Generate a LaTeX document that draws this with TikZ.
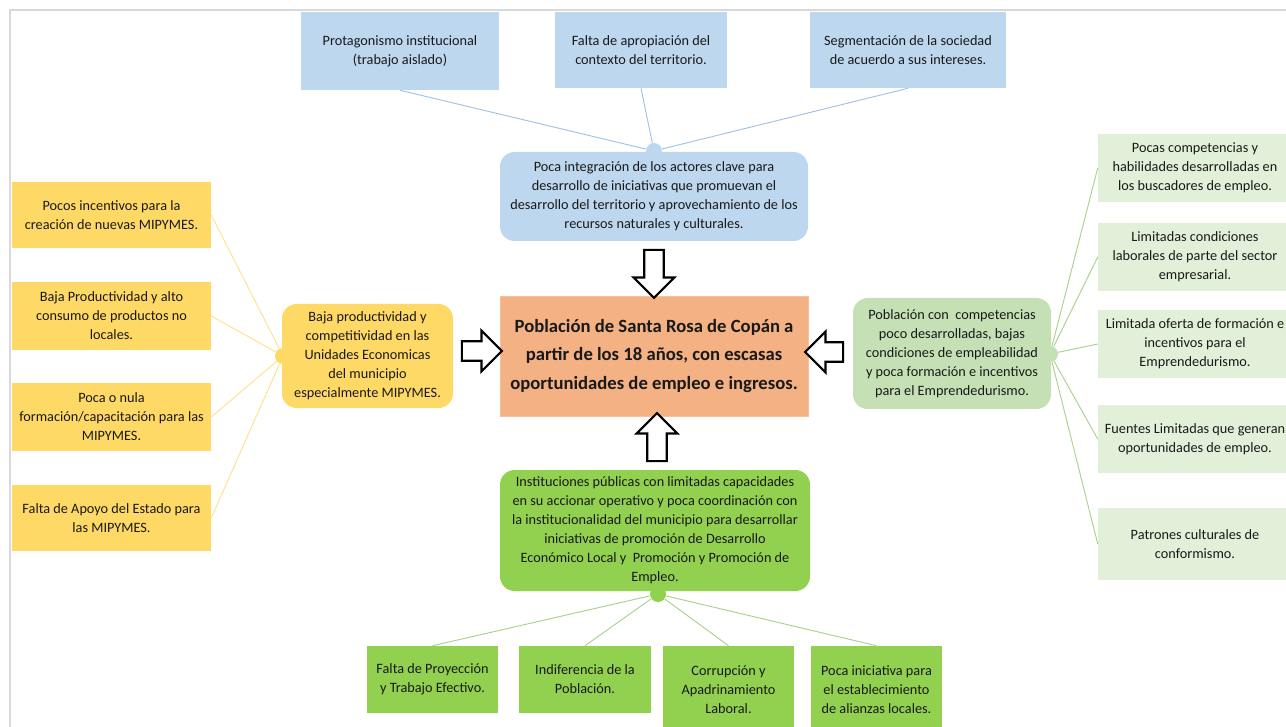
\documentclass[tikz,border=0pt]{standalone}
\usepackage{fontspec}
\setmainfont{Carlito}
\usetikzlibrary{shapes.arrows}
\definecolor{blueBox}{HTML}{BDD7EE}
\definecolor{blueLine}{HTML}{9DC3E6}
\definecolor{yellowBox}{HTML}{FFD966}
\definecolor{yellowLine}{HTML}{FFE08A}
\definecolor{orangeBox}{HTML}{F4B183}
\definecolor{paleGreen}{HTML}{E2F0D9}
\definecolor{midGreen}{HTML}{C5E0B4}
\definecolor{limeGreen}{HTML}{92D050}
\definecolor{greenLine}{HTML}{A9D18E}
\begin{document}
\begin{tikzpicture}[x=0.75pt,y=-0.75pt,
	sz/.style 2 args={minimum width=#1*0.75pt,minimum height=#2*0.75pt},
	txt/.style={align=center,inner sep=2pt,text=black!90,font=\fontsize{10.7}{14.25}\selectfont},
	sqbox/.style={txt,rectangle},
	hub/.style={txt,rectangle,rounded corners=11pt},
	knob/.style={circle,minimum size=16*0.75pt,inner sep=0pt},
	link/.style={line width=0.7pt},
	blockarrow/.style={single arrow,draw=black,fill=white,line width=1.6pt,
		inner sep=6.5pt,single arrow head extend=8pt,single arrow tip angle=90}]
	\useasboundingbox (0,0) rectangle (1286,727);
	\draw[black!15, line width=1.5pt] (10,727) -- (10,10) -- (1286,10);

	\node[sqbox, fill=blueBox, sz={198}{78}] (t1) at (400,51) {Protagonismo institucional\\(trabajo aislado)};
	\node[sqbox, fill=blueBox, sz={172}{76}] (t2) at (641,50) {Falta de apropiación del\\contexto del territorio.};
	\node[sqbox, fill=blueBox, sz={196}{76}] (t3) at (908,50) {Segmentación de la sociedad\\de acuerdo a sus intereses.};

	\node[knob, fill=blueBox] (kb) at (654,151) {};
	\node[hub, fill=blueBox, sz={308}{89}] (hb) at (654,196.5) {Poca integración de los actores clave para\\desarrollo de iniciativas que promuevan el\\desarrollo del territorio y aprovechamiento de los\\recursos naturales y culturales.};
	\draw[link, blueLine] (t1.south) -- (kb);
	\draw[link, blueLine] (t2.south) -- (kb);
	\draw[link, blueLine] (t3.south) -- (kb);

	\node[rectangle, fill=orangeBox, draw=orangeBox!80!white, sz={308}{120}, align=center, text=black!90,
		font=\fontsize{14}{21.4}\selectfont\bfseries] (core) at (654,356)
		{Población de Santa Rosa de Copán a\\partir de los 18 años, con escasas\\oportunidades de empleo e ingresos.};

	\node[sqbox, fill=yellowBox, sz={199}{66}] (l1) at (111.5,215) {Pocos incentivos para la\\creación de nuevas MIPYMES.};
	\node[sqbox, fill=yellowBox, sz={199}{68}] (l2) at (111.5,316) {Baja Productividad y alto\\consumo de productos no\\locales.};
	\node[sqbox, fill=yellowBox, sz={199}{68}] (l3) at (111.5,417) {Poca o nula\\formación/capacitación para las\\MIPYMES.};
	\node[sqbox, fill=yellowBox, sz={199}{66}] (l4) at (111.5,518) {Falta de Apoyo del Estado para\\las MIPYMES.};
	\node[knob, fill=yellowBox] (ky) at (283,356) {};
	\node[hub, fill=yellowBox, sz={171}{104}] (hy) at (367.5,356) {Baja productividad y\\competitividad en las\\Unidades Economicas\\del municipio\\especialmente MIPYMES.};
	\foreach \b in {l1,l2,l3,l4}
		\draw[link, yellowLine] (\b.east) -- (ky);

	\node[sqbox, fill=paleGreen, sz={194}{68}] (r1) at (1195,168) {Pocas competencias y\\habilidades desarrolladas en\\los buscadores de empleo.};
	\node[sqbox, fill=paleGreen, sz={194}{68}] (r2) at (1195,257) {Limitadas condiciones\\laborales de parte del sector\\empresarial.};
	\node[sqbox, fill=paleGreen, sz={194}{68}] (r3) at (1195,344) {Limitada oferta de formación e\\incentivos para el\\Emprendedurismo.};
	\node[sqbox, fill=paleGreen, sz={194}{68}] (r4) at (1195,439) {Fuentes Limitadas que generan\\oportunidades de empleo.};
	\node[sqbox, fill=paleGreen, sz={194}{72}] (r5) at (1195,544) {Patrones culturales de\\conformismo.};
	\node[knob, fill=midGreen] (kg) at (1050,354) {};
	\node[hub, fill=midGreen, sz={198}{111}] (hg) at (952,353.5) {Población con~~competencias\\poco desarrolladas, bajas\\condiciones de empleabilidad\\y poca formación e incentivos\\para el Emprendedurismo.};
	\foreach \b in {r1,r2,r3,r4,r5}
		\draw[link, greenLine] (\b.west) -- (kg);

	\node[knob, fill=limeGreen] (kh) at (658,594) {};
	\node[hub, fill=limeGreen, sz={310}{121}] (hh) at (655,530.5) {Instituciones públicas con limitadas capacidades\\en su accionar operativo y poca coordinación con\\la institucionalidad del municipio para desarrollar\\iniciativas de promoción de Desarrollo\\Económico Local y~~Promoción y Promoción de\\Empleo.};
	\node[sqbox, fill=limeGreen, sz={131}{67}] (b1) at (432.5,679.5) {Falta de Proyección\\y Trabajo Efectivo.};
	\node[sqbox, fill=limeGreen, sz={132}{67}] (b2) at (585,679.5) {Indiferencia de la\\Población.};
	\node[sqbox, fill=limeGreen, sz={131}{88}] (b3) at (728.5,690) {Corrupción y\\Apadrinamiento\\Laboral.};
	\node[sqbox, fill=limeGreen, sz={131}{88}] (b4) at (876.5,690) {Poca iniciativa para\\el establecimiento\\de alianzas locales.};
	\foreach \b in {b1,b2,b3,b4}
		\draw[link, greenLine] (kh) -- (\b.north);

	\node[blockarrow, minimum height=48*0.75pt, rotate=-90] (adown) at (654,269) {};
	\node[blockarrow, minimum height=48*0.75pt, rotate=90] (aup) at (657,442) {};
	\node[blockarrow, minimum height=40*0.75pt] (aright) at (477,351) {};
	\node[blockarrow, minimum height=38*0.75pt, rotate=180] (aleft) at (829,352) {};
\end{tikzpicture}
\end{document}
